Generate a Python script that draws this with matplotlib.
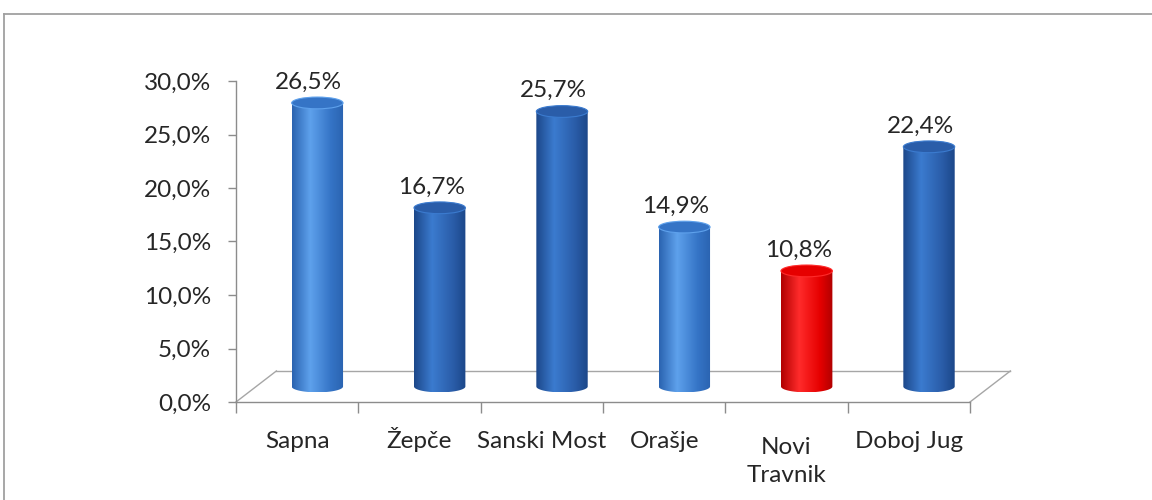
import matplotlib.pyplot as plt
import numpy as np
from matplotlib.colors import LinearSegmentedColormap
from matplotlib.lines import Line2D
from matplotlib.patches import Ellipse, PathPatch
from matplotlib.path import Path
from matplotlib.transforms import ScaledTranslation

# Data
categories = ["Sapna", "Žepče", "Sanski Most", "Orašje", "Novi\nTravnik", "Doboj Jug"]
values = [26.5, 16.7, 25.7, 14.9, 10.8, 22.4]
bar_shades = ["light", "dark", "dark", "light", "red", "dark"]
yticks = [0, 5, 10, 15, 20, 25, 30]

# edge, highlight, top cap
shades = {
    "light": ("#2a63b0", "#5ea1ec", "#3574c6"),
    "dark": ("#1c4789", "#3b7bcf", "#2a5da9"),
    "red": ("#b00000", "#ff2b2b", "#e60000"),
}

DEPTH_X = 0.33   # floor depth, in category units
DEPTH_Y = 2.9    # floor depth, in percent units
BAR_W = 0.42
ELL_H = 1.1
FONT_SIZE = 17.5
LINE_SPACING = 1.4

plt.rcParams["font.family"] = ["Lato", "DejaVu Sans"]
plt.rcParams["font.size"] = FONT_SIZE

fig = plt.figure(figsize=(11.52, 5.0), dpi=100)
ax = fig.add_axes([236 / 1152, 98 / 500, 734 / 1152, 321 / 500])

# outer chart frame (left and top edges only are visible)
frame_x = 3.5 / 1152
frame_y = 1 - 13.5 / 500
fig.add_artist(Line2D([frame_x, 1.0], [frame_y, frame_y], transform=fig.transFigure,
                      color="#a0a0a0", lw=1.3))
fig.add_artist(Line2D([frame_x, frame_x], [0, frame_y], transform=fig.transFigure,
                      color="#a0a0a0", lw=1.3))

# 3D floor outline
gray = "#a6a6a6"
ax.plot([-0.5 + DEPTH_X, 5.5 + DEPTH_X], [DEPTH_Y, DEPTH_Y], color=gray, lw=1, clip_on=False, zorder=1)
ax.plot([-0.5, -0.5 + DEPTH_X], [0, DEPTH_Y], color=gray, lw=1, clip_on=False, zorder=1)
ax.plot([5.5, 5.5 + DEPTH_X], [0, DEPTH_Y], color=gray, lw=1, clip_on=False, zorder=1)

# Cylinders
grad = np.linspace(0, 1, 256)[None, :]
t = np.linspace(np.pi, 2 * np.pi, 60)
for i, (v, shade) in enumerate(zip(values, bar_shades)):
    edge, hi, cap = shades[shade]
    cx = i + DEPTH_X / 2
    base = DEPTH_Y / 2
    top = v + DEPTH_Y / 2
    x0, x1 = cx - BAR_W / 2, cx + BAR_W / 2

    arc = np.column_stack([cx + BAR_W / 2 * np.cos(t), base + ELL_H / 2 * np.sin(t)])
    verts = [(x0, top)] + arc.tolist() + [(x1, top), (x0, top)]
    codes = [Path.MOVETO] + [Path.LINETO] * (len(verts) - 2) + [Path.CLOSEPOLY]
    clip = PathPatch(Path(verts, codes), transform=ax.transData, fc="none", ec="none")
    ax.add_patch(clip)

    cmap = LinearSegmentedColormap.from_list(
        "cyl", [(0, edge), (0.35, hi), (0.75, cap), (1, edge)])
    im = ax.imshow(grad, cmap=cmap, extent=[x0, x1, base - ELL_H / 2, top],
                   aspect="auto", zorder=3, interpolation="bilinear")
    im.set_clip_path(clip)

    ax.add_patch(Ellipse((cx, top), BAR_W, ELL_H, fc=cap, ec=hi, lw=0.8, zorder=4))

    label = f"{v:.1f}%".replace(".", ",")
    ax.annotate(label, (cx - 0.07, top + ELL_H / 2), xytext=(0, 6),
                textcoords="offset points", ha="center", va="baseline",
                color="#262626", annotation_clip=False)

# Category labels: baseline-aligned so the caron in "Žepče" doesn't shift it
for i, cat in enumerate(categories):
    n_lines = cat.count("\n") + 1
    drop = 33 + (n_lines - 1) * LINE_SPACING * FONT_SIZE
    trans = ax.get_xaxis_transform() + ScaledTranslation(0, -drop / 72, fig.dpi_scale_trans)
    ax.text(i, 0, cat, transform=trans, ha="center", va="baseline",
            linespacing=LINE_SPACING, color="#262626", clip_on=False)

# Axes styling
ax.set_xlim(-0.5, 5.5)
ax.set_ylim(0, 30)
for side in ["top", "right"]:
    ax.spines[side].set_visible(False)
for side in ["left", "bottom"]:
    ax.spines[side].set_color("#8c8c8c")
    ax.spines[side].set_linewidth(1)

ax.set_yticks(yticks)
ax.set_yticklabels([f"{y:.1f}%".replace(".", ",") for y in yticks])
ax.tick_params(axis="y", length=6, width=1, color="#8c8c8c", pad=12, labelcolor="#262626")

ax.set_xticks(np.arange(-0.5, 6, 1))
ax.set_xticklabels([])
ax.tick_params(axis="x", which="major", length=8, width=1, color="#8c8c8c")

ax.set_facecolor("none")

plt.savefig("out.png", dpi=100)
